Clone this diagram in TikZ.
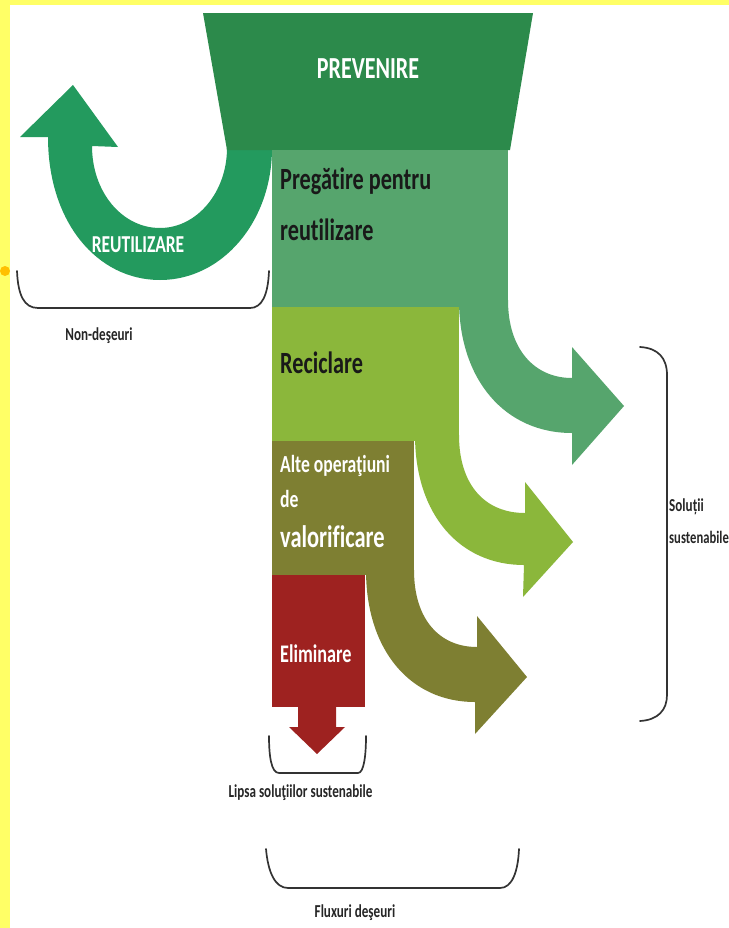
\documentclass[tikz,border=0pt]{standalone}
\usepackage{fontspec}
\setmainfont{Carlito}
\newfontfamily\cond[FakeStretch=0.72,Ligatures=NoCommon]{Carlito}
\definecolor{ybg}{HTML}{FFFF66}
\definecolor{dot}{HTML}{FFC000}
\definecolor{prev}{HTML}{2C8A4B}
\definecolor{reut}{HTML}{239A5E}
\definecolor{preg}{HTML}{56A56D}
\definecolor{recl}{HTML}{8BB73B}
\definecolor{alte}{HTML}{7E7F32}
\definecolor{elim}{HTML}{9E2220}
\definecolor{brk}{HTML}{333333}
\tikzset{
  x=1bp,y=-1bp,
  lbl/.style={inner sep=0pt,anchor=west},
  small/.style={inner sep=0pt,font=\cond\bfseries\fontsize{18.3}{20}\selectfont,text=black!85},
  brace/.style={draw=brk,line width=1.7pt,line cap=round,line join=round},
}
\begin{document}
\begin{tikzpicture}
\useasboundingbox (0,0) rectangle (729,928);
\clip (0,0) rectangle (729,928);
\fill[ybg] (0,0) rectangle (729,928);
\fill[white] (10,5) rectangle (729,928);
\fill[dot] (5,271) circle (5);
% arrows behind the blocks
\fill[preg] (459,300) .. controls (459,380) and (505,433) .. (572,433) -- (572,465) -- (624,406) -- (572,347) -- (572,378)
  .. controls (535,378) and (508,350) .. (508,300) -- cycle;
\fill[recl] (415,435) .. controls (415,515) and (460,565) .. (524,565) -- (523,597) -- (573,542) -- (525,482) -- (525,513)
  .. controls (485,513) and (459,485) .. (459,435) -- cycle;
\fill[alte] (366,570) .. controls (366,650) and (410,702) .. (475,702) -- (475,734) -- (527,677) -- (477,616) -- (477,647)
  .. controls (440,647) and (414,620) .. (414,570) -- cycle;
% reuse arrow
\fill[reut] (272,148) .. controls (272,222) and (222,280) .. (160,280) .. controls (97,280) and (48,222) .. (48,137)
  -- (20,137) -- (73,85) -- (118,147) -- (92,146)
  .. controls (92,192) and (122,228) .. (160,228) .. controls (197,228) and (227,192) .. (227,148) -- cycle;
% blocks
\fill[prev] (203,13) -- (533,13) -- (510,150) -- (227,150) -- cycle;
\fill[preg] (272,150) rectangle (508,307);
\fill[recl] (272,307) rectangle (459,441);
\fill[alte] (272,441) rectangle (414,575);
\fill[elim] (272,575) rectangle (365,707);
\fill[elim] (298,706) -- (336,706) -- (336,727) -- (345,727) -- (317,754) -- (289,727) -- (298,727) -- cycle;
% brackets
\draw[brace] (17,271) .. controls (18,295) and (24,308) .. (38,308) -- (250,308) .. controls (262,308) and (268,295) .. (269,271);
\draw[brace] (640,347) .. controls (658,348) and (667,358) .. (667,375) -- (667,695) .. controls (667,710) and (658,720) .. (640,721);
\draw[brace] (269,736) .. controls (269,755) and (271,773) .. (279,773) -- (358,773) .. controls (364,773) and (366,755) .. (366,736);
\draw[brace] (266,849) .. controls (268,872) and (275,888) .. (288,888) -- (500,888) .. controls (512,888) and (518,872) .. (519,849);
% texts
\node[lbl,text=white,anchor=center,font=\cond\bfseries\fontsize{30.7}{32}\selectfont] (tprev) at (368,69) {PREVENIRE};
\node[lbl,text=black!90,font=\cond\bfseries\fontsize{31}{33}\selectfont] (tpreg1) at (280,181) {Pregătire pentru};
\node[lbl,text=black!90,font=\cond\bfseries\fontsize{31}{33}\selectfont] (tpreg2) at (280,230) {reutilizare};
\node[lbl,text=black!90,font=\cond\bfseries\fontsize{31}{33}\selectfont] (trecl) at (280,363) {Reciclare};
\node[lbl,text=white,font=\cond\bfseries\fontsize{24.6}{26}\selectfont] (talte1) at (280,466) {Alte operaţiuni};
\node[lbl,text=white,font=\cond\bfseries\fontsize{24.6}{26}\selectfont] (talte2) at (280,499) {de};
\node[lbl,text=white,font=\cond\bfseries\fontsize{31.3}{33}\selectfont] (talte3) at (280,537) {valorificare};
\node[lbl,text=white,font=\cond\bfseries\fontsize{25.4}{27}\selectfont] (telim) at (280,654) {Eliminare};
\node[lbl,text=white,anchor=center,font=\cond\bfseries\fontsize{24.4}{26}\selectfont] (treut) at (138,245) {REUTILIZARE};
\node[small] (tnon) at (99,336) {Non-deşeuri};
\node[small,anchor=west] (tsol1) at (669,507) {Soluții};
\node[small,anchor=west,font=\cond\bfseries\fontsize{17.6}{20}\selectfont] (tsol2) at (669,537) {sustenabile};
\node[small] (tlip) at (300.5,793) {Lipsa soluţiilor sustenabile};
\node[small] (tflu) at (355,913) {Fluxuri deşeuri};
\end{tikzpicture}
\end{document}
